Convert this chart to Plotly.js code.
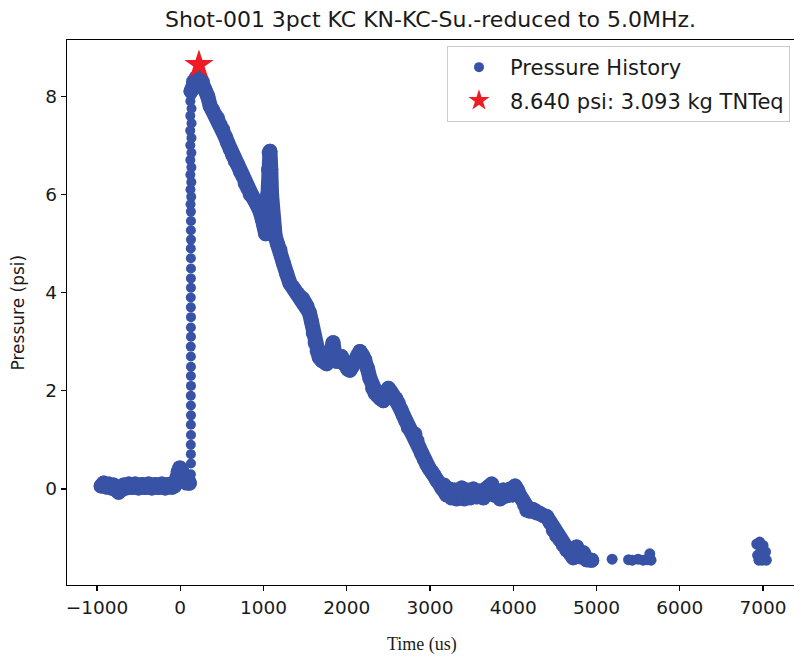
<!DOCTYPE html>
<html>
<head>
<meta charset="utf-8">
<script src="https://cdn.plot.ly/plotly-3.0.1.min.js"></script>
<style>
html,body{margin:0;padding:0;background:#fff;}
#chart{width:794px;height:659px;}
path.js-line{stroke-linejoin:round;stroke-linecap:round;}
</style>
</head>
<body>
<div id="chart"></div>
<script>
// ---- data ----
// pre-trigger baseline and small precursor bump (time in us, pressure in psi)
const baseX = [-950,-920,-890,-860,-830,-800,-770,-740,-710,-680,-650,-620,-580,-540,-500,-460,-420,-380,-340,-300,-260,-220,-180,-140,-100,-70,-45,-25,-5,15,35,55,75,95,110];
const baseY = [0.06,0.12,0.04,0.1,0.02,0.08,-0.02,-0.07,-0.02,0.08,0.02,0.1,0.03,0.1,0.02,0.09,0.03,0.1,0.02,0.09,0.03,0.1,0.02,0.09,0.03,0.06,0.2,0.36,0.43,0.38,0.3,0.18,0.12,0.2,0.12];

// shock front rise (sparse samples)
const riseX = [128,129,128,127,129,128,129,128,127,129,128,129,128,127,129,128,129,128,127,129,128,129,128,127,129,128,129,128,124,132,123,133,122,134,121,134,121,135,120,136,121,136,122,135,126];
const riseY = [0.3,0.52,0.71,0.9,1.1,1.31,1.5,1.7,1.9,2.1,2.3,2.49,2.7,2.9,3.1,3.29,3.5,3.7,3.9,4.1,4.29,4.49,4.7,4.9,5.08,5.27,5.46,5.65,5.8,5.95,6.1,6.25,6.4,6.55,6.7,6.85,7.0,7.15,7.3,7.45,7.6,7.75,7.9,8.02,8.12];

// peak and decay
const decayX = [130,160,195,230,265,300,330,360,390,420,450,480,510,540,570,600,630,660,690,720,750,780,810,840,870,900,930,960,985,1005,1025,1040,1050,1060,1068,1078,1088,1097,1106,1118,1140,1170,1198,1238,1278,1318,1350,1378,1410,1438,1470,1498,1525,1550,1575,1598,1620,1645,1670,1700,1730,1759,1790,1815,1835,1855,1879,1910,1935,1959,1990,2015,2039,2070,2100,2130,2159,2190,2219,2250,2279,2310,2339,2370,2400,2439,2470,2500,2530,2560,2590,2620,2650,2680,2710,2740,2770,2800,2820,2845,2870,2900,2930,2960,2990,3020,3050,3080,3110,3140,3170,3200,3230,3260,3290,3321,3350,3380,3410,3440,3481,3520,3560,3601,3640,3680,3710,3741,3770,3800,3841,3880,3920,3960,3990,4021,4050,4081,4110,4135,4161,4200,4240,4281,4320,4360,4401,4440,4481,4520,4561,4600,4641,4680,4721,4761,4800,4842,4880,4942];
const decayY = [8.1,8.3,8.38,8.4,8.3,8.12,8.0,7.8,7.72,7.62,7.55,7.42,7.32,7.18,7.05,6.92,6.8,6.68,6.6,6.47,6.38,6.22,6.12,6.0,5.95,5.86,5.8,5.65,5.5,5.38,5.2,5.5,6.0,6.5,6.85,6.88,6.5,6.0,5.6,5.3,5.15,4.98,4.87,4.6,4.39,4.19,4.12,4.05,3.98,3.92,3.88,3.8,3.72,3.6,3.42,3.18,2.98,2.8,2.68,2.62,2.6,2.55,2.62,2.8,2.98,2.75,2.6,2.62,2.7,2.56,2.5,2.44,2.42,2.5,2.6,2.72,2.8,2.72,2.63,2.45,2.25,2.05,1.95,1.9,1.85,1.8,1.92,2.05,1.98,1.9,1.84,1.75,1.62,1.5,1.38,1.25,1.18,1.12,1.12,0.98,0.85,0.72,0.6,0.5,0.42,0.35,0.28,0.18,0.12,0.02,0.08,-0.12,0.0,-0.18,-0.02,-0.2,-0.06,0.02,-0.2,-0.02,-0.18,0.0,-0.16,-0.04,-0.18,0.02,0.06,0.1,-0.12,-0.04,-0.2,-0.02,-0.14,0.0,-0.12,0.06,-0.02,-0.14,-0.22,-0.32,-0.43,-0.45,-0.42,-0.49,-0.5,-0.54,-0.56,-0.68,-0.84,-0.95,-1.04,-1.14,-1.24,-1.3,-1.4,-1.18,-1.38,-1.3,-1.44,-1.45];

// sparse late samples
const tailX = [5188,5385,5430,5500,5560,5610,5640,5655,6925,6935,6950,6960,6975,6990,7000,7015,7030,7040];
const tailY = [-1.43,-1.44,-1.45,-1.43,-1.45,-1.44,-1.32,-1.45,-1.12,-1.35,-1.45,-1.08,-1.25,-1.45,-1.15,-1.38,-1.28,-1.45];

// peak marker
const peakX = [225];
const peakY = [8.64];

const seriesName = 'Pressure History';
const peakName = '8.640 psi: 3.093 kg TNTeq';
const titleText = 'Shot-001 3pct KC KN-KC-Su.-reduced to 5.0MHz.';
const xTicks = [-1000,0,1000,2000,3000,4000,5000,6000,7000];
const yTicks = [0,2,4,6,8];

const BLUE = '#3852a6';
const RED = '#ee1c24';

const bandStyle = {mode:'lines+markers', line:{color:BLUE, width:15}, marker:{color:BLUE, size:15}, showlegend:false, hoverinfo:'skip', type:'scatter'};

const traces = [
  Object.assign({x: baseX, y: baseY}, bandStyle),
  Object.assign({x: decayX, y: decayY}, bandStyle),
  {x: riseX, y: riseY, mode:'markers', type:'scatter', name: seriesName, legendgroup:'a', marker:{color:BLUE, size:10}},
  {x: tailX, y: tailY, mode:'markers', type:'scatter', showlegend:false, marker:{color:BLUE, size:11}},
  {x: peakX, y: peakY, mode:'markers', type:'scatter', name: peakName, legendgroup:'b', marker:{color:RED, size:22, symbol:'star'}}
];

const tickFont = {family:'DejaVu Sans', size:18.5, color:'#1a1a1a'};

const layout = {
  width: 794, height: 659,
  margin: {l:67, r:0, t:40, b:74},
  paper_bgcolor:'#fff', plot_bgcolor:'#fff',
  title: {text: titleText, font:{family:'DejaVu Sans', size:22, color:'#1a1a1a'}, x:0.5, xref:'paper', xanchor:'center', y:1-19/659, yref:'container', yanchor:'middle'},
  xaxis: {range:[-1360,7372], tickvals:xTicks, showgrid:false, zeroline:false, showline:true, mirror:true, linecolor:'#000', linewidth:1.3, ticks:'outside', ticklen:5, tickcolor:'#000', tickwidth:1.2, tickfont:tickFont},
  yaxis: {range:[-1.955,9.145], tickvals:yTicks, showgrid:false, zeroline:false, showline:true, linecolor:'#000', linewidth:1.3, ticks:'outside', ticklen:5, tickcolor:'#000', tickwidth:1.2, tickfont:tickFont},
  legend: {x:0.9945, y:0.989, xanchor:'right', yanchor:'top', bgcolor:'rgba(255,255,255,0.9)', bordercolor:'#cccccc', borderwidth:1, font:{family:'DejaVu Sans', size:21, color:'#1a1a1a'}, traceorder:'grouped', tracegroupgap:3, itemwidth:52},
  annotations: [
    {text:'Pressure (psi)', textangle:-90, xref:'paper', yref:'paper', x:(17-67)/727, y:0.5, xanchor:'center', yanchor:'middle', showarrow:false, font:{family:'DejaVu Sans', size:17, color:'#1a1a1a'}},
    {text:'Time (us)', xref:'paper', yref:'paper', x:(422-67)/727, y:(585-644)/545, xanchor:'center', yanchor:'middle', showarrow:false, font:{family:'Liberation Serif', size:18, color:'#1a1a1a'}}
  ],
  showlegend: true
};

Plotly.newPlot('chart', traces, layout, {displayModeBar:false, staticPlot:true});
</script>
</body>
</html>
